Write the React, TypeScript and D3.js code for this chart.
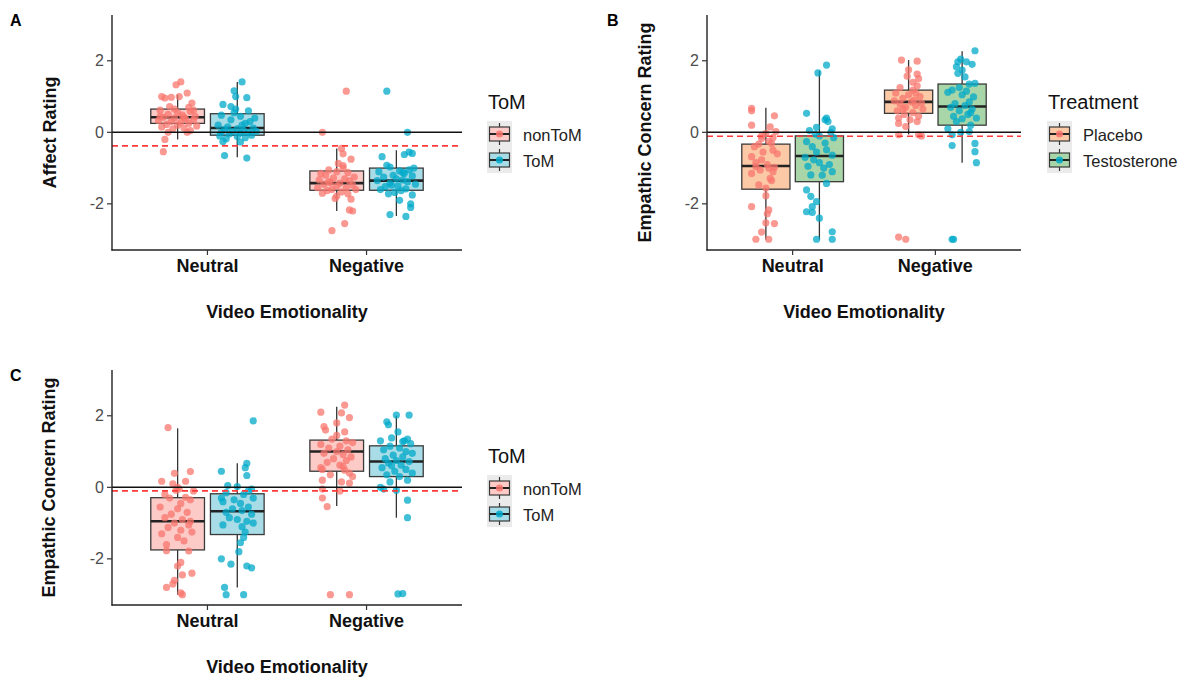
import React from "react";
import * as d3 from "d3";

// ---------- shared ----------
const categories = ["Neutral", "Negative"];
const yTicks = [-2, 0, 2];
const xAxisTitle = "Video Emotionality";

// ---------- Panel A : Affect rating by ToM ----------
const groupsA = ["nonToM", "ToM"];
// [lower whisker, q1, median, q3, upper whisker] for Neutral, Negative
const boxA_nonToM = [[-0.2, 0.25, 0.42, 0.65, 1.05], [-2.2, -1.62, -1.42, -1.08, -0.45]];
const boxA_ToM = [[-0.7, -0.08, 0.12, 0.52, 1.41], [-2.34, -1.62, -1.35, -1.0, -0.5]];
const refA = -0.38;
// points: [jitter (category units), rating]
const ptsA_nonToM_neu = [[0.02,1.41],[-0.01,1.33],[0.06,1.1],[-0.1,1.0],[-0.04,0.98],[-0.08,0.96],[0.01,1.0],[0.09,0.82],[-0.05,0.72],[0.07,0.7],[-0.11,0.62],[0.08,0.58],[0.0,0.55],[-0.06,0.5],[0.03,0.48],[0.11,0.45],[-0.09,0.42],[-0.02,0.4],[0.05,0.38],[0.1,0.35],[-0.12,0.33],[-0.04,0.3],[0.02,0.28],[0.07,0.25],[-0.07,0.22],[0.0,0.2],[0.12,0.18],[-0.1,0.15],[0.04,0.12],[-0.03,0.1],[0.08,0.05],[-0.06,0.0],[0.06,0.0],[-0.08,-0.2],[-0.09,-0.54],[0.1,0.62],[-0.02,0.65],[0.04,0.42],[-0.11,0.45]];
const ptsA_ToM_neu = [[0.03,1.41],[-0.02,1.16],[-0.01,1.0],[0.06,0.97],[-0.09,0.78],[-0.04,0.72],[-0.01,0.65],[0.07,0.6],[-0.1,0.48],[0.02,0.45],[-0.04,0.35],[0.08,0.3],[0.05,0.25],[-0.12,0.2],[-0.06,0.15],[0.1,0.12],[0.0,0.1],[-0.08,0.08],[0.04,0.05],[0.12,0.03],[-0.03,0.02],[-0.1,0.0],[0.07,0.0],[0.02,-0.02],[-0.05,-0.05],[0.09,-0.08],[-0.11,-0.1],[0.0,-0.12],[0.05,-0.15],[-0.07,-0.18],[-0.09,-0.26],[0.02,-0.27],[-0.08,-0.65],[0.06,-0.72],[0.11,0.4],[-0.02,0.55],[0.03,0.2]];
const ptsA_nonToM_neg = [[0.06,1.15],[-0.09,0.0],[0.03,-0.45],[0.04,-0.6],[0.09,-0.75],[0.01,-0.87],[0.04,-0.93],[-0.05,-1.05],[-0.1,-1.15],[0.0,-1.1],[0.07,-1.12],[-0.07,-1.2],[0.11,-1.25],[-0.02,-1.28],[0.05,-1.3],[-0.11,-1.33],[0.08,-1.36],[-0.04,-1.4],[0.02,-1.42],[-0.08,-1.45],[0.1,-1.47],[0.0,-1.5],[-0.12,-1.55],[0.06,-1.55],[-0.03,-1.6],[0.12,-1.6],[-0.06,-1.63],[0.03,-1.67],[-0.09,-1.7],[0.07,-1.72],[0.0,-1.78],[-0.01,-1.85],[0.09,-1.87],[0.08,-2.17],[0.1,-2.2],[0.05,-2.55],[-0.03,-2.75],[0.04,-1.0],[-0.05,-1.38]];
const ptsA_ToM_neg = [[-0.06,1.15],[0.07,0.0],[0.1,-0.59],[0.08,-0.55],[0.05,-0.62],[-0.09,-0.68],[-0.06,-0.92],[-0.04,-0.97],[0.08,-1.05],[0.11,-1.0],[0.02,-1.08],[-0.11,-1.1],[0.05,-1.15],[-0.02,-1.2],[0.1,-1.22],[-0.08,-1.25],[0.0,-1.3],[0.04,-1.33],[-0.12,-1.35],[0.07,-1.38],[-0.04,-1.42],[0.12,-1.45],[0.01,-1.5],[-0.07,-1.52],[0.06,-1.58],[-0.1,-1.6],[0.03,-1.63],[-0.01,-1.68],[0.1,-1.75],[-0.05,-1.72],[0.02,-1.9],[0.09,-2.0],[0.09,-2.1],[-0.04,-2.3],[0.06,-2.35],[0.04,-1.12],[-0.03,-1.48]];

// ---------- Panel B : Empathic concern by Treatment ----------
const groupsB = ["Placebo", "Testosterone"];
const boxB_Placebo = [[-3.0, -1.59, -0.94, -0.33, 0.69], [-0.06, 0.53, 0.85, 1.18, 2.02]];
const boxB_Testo = [[-3.0, -1.38, -0.66, -0.1, 1.72], [-0.85, 0.2, 0.72, 1.35, 2.27]];
const refB = -0.11;
const ptsB_Placebo_neu = [[-0.1,0.67],[-0.1,0.6],[0.06,0.46],[-0.1,0.2],[0.03,0.15],[0.07,0.02],[0.0,-0.03],[-0.03,-0.1],[0.05,-0.15],[-0.03,-0.17],[0.02,-0.25],[0.04,-0.31],[-0.05,-0.33],[-0.08,-0.4],[0.05,-0.5],[-0.02,-0.55],[0.08,-0.6],[-0.1,-0.68],[-0.03,-0.77],[-0.07,-0.85],[0.01,-0.9],[-0.07,-0.96],[0.02,-1.0],[0.06,-0.98],[-0.04,-1.05],[0.05,-1.1],[-0.1,-1.15],[0.03,-1.29],[-0.05,-1.47],[0.0,-1.56],[0.0,-1.77],[-0.1,-2.08],[0.02,-2.17],[0.01,-2.28],[0.0,-2.53],[0.06,-2.55],[-0.03,-2.79],[-0.07,-2.99],[0.02,-2.99],[0.04,-1.35]];
const ptsB_Testo_neu = [[0.05,1.88],[-0.01,1.66],[-0.09,0.53],[0.05,0.4],[0.04,0.35],[0.06,0.3],[-0.02,0.14],[0.09,0.1],[-0.07,0.05],[0.08,0.0],[-0.03,-0.05],[0.0,-0.1],[0.1,-0.15],[-0.09,-0.26],[-0.05,-0.4],[0.05,-0.49],[-0.02,-0.55],[0.09,-0.64],[-0.04,-0.77],[0.0,-0.85],[0.07,-0.9],[-0.08,-0.95],[0.03,-1.0],[0.09,-1.1],[-0.06,-1.19],[0.02,-1.2],[0.05,-1.43],[-0.09,-1.61],[-0.06,-1.79],[-0.02,-1.94],[-0.05,-2.08],[-0.09,-2.22],[-0.05,-2.24],[0.0,-2.4],[0.09,-2.78],[0.09,-2.99],[-0.02,-2.99],[-0.1,-0.7],[0.04,-0.3]];
const ptsB_Placebo_neg = [[-0.05,2.02],[0.06,1.99],[0.0,1.75],[-0.01,1.57],[0.06,1.63],[0.07,1.5],[0.03,1.4],[-0.06,1.25],[0.06,1.3],[0.03,1.18],[-0.09,1.1],[0.0,1.05],[0.08,1.0],[-0.04,0.95],[0.04,0.9],[-0.1,0.88],[0.02,0.85],[0.09,0.82],[-0.06,0.8],[0.05,0.75],[-0.02,0.7],[0.1,0.65],[-0.08,0.6],[0.03,0.55],[-0.03,0.5],[0.07,0.45],[-0.07,0.4],[0.01,0.35],[0.06,0.3],[-0.07,0.25],[-0.02,0.16],[-0.07,-0.07],[0.07,-0.07],[0.09,-0.1],[-0.07,-2.93],[-0.02,-2.99],[0.05,1.1],[-0.04,0.65]];
const ptsB_Testo_neg = [[0.09,2.28],[-0.03,1.97],[0.03,1.97],[-0.01,2.05],[-0.04,1.83],[0.0,1.74],[-0.03,1.65],[0.07,1.9],[0.05,1.35],[0.09,1.37],[-0.07,1.18],[-0.02,1.25],[0.03,1.15],[0.08,0.99],[-0.1,1.12],[0.0,1.05],[0.05,0.85],[-0.05,0.8],[0.02,0.75],[-0.08,0.7],[0.07,0.65],[-0.02,0.6],[0.04,0.5],[-0.06,0.45],[0.1,0.4],[0.0,0.38],[-0.04,0.3],[0.06,0.2],[-0.1,0.1],[-0.01,0.0],[0.05,0.02],[-0.07,-0.07],[-0.07,-0.37],[0.09,-0.31],[0.09,-0.54],[0.1,-0.85],[-0.07,-2.99],[-0.06,-2.99],[0.02,1.55],[0.06,0.55]];

// ---------- Panel C : Empathic concern by ToM ----------
const boxC_nonToM = [[-3.0, -1.75, -0.95, -0.29, 1.65], [-0.52, 0.45, 1.0, 1.32, 2.25]];
const boxC_ToM = [[-2.8, -1.32, -0.67, -0.18, 0.67], [-0.85, 0.3, 0.72, 1.16, 2.0]];
const refC = -0.1;
const ptsC_nonToM_neu = [[-0.06,1.67],[-0.02,0.39],[0.08,0.44],[-0.1,0.17],[0.05,0.17],[-0.03,0.1],[0.0,0.0],[0.01,-0.05],[-0.01,-0.08],[-0.08,-0.2],[0.05,-0.28],[-0.05,-0.3],[0.08,-0.35],[0.02,-0.45],[-0.11,-0.55],[0.0,-0.6],[0.06,-0.7],[-0.04,-0.75],[-0.08,-0.85],[0.03,-0.9],[0.08,-0.95],[-0.02,-1.0],[0.07,-1.05],[-0.06,-1.12],[0.02,-1.2],[0.09,-1.25],[-0.1,-1.3],[0.0,-1.4],[0.04,-1.5],[-0.07,-1.6],[-0.07,-1.77],[0.07,-1.78],[0.02,-2.1],[0.0,-2.2],[0.09,-2.4],[0.03,-2.45],[-0.02,-2.6],[-0.03,-2.7],[-0.07,-2.8],[0.03,-3.0],[0.02,-2.95],[0.1,-0.1]];
const ptsC_ToM_neu = [[0.1,1.86],[0.06,0.67],[0.05,0.55],[0.06,0.33],[-0.1,0.45],[-0.06,0.05],[0.0,0.02],[0.09,-0.05],[-0.07,-0.15],[0.04,-0.2],[-0.1,-0.3],[0.1,-0.3],[-0.09,-0.4],[0.02,-0.45],[0.07,-0.55],[-0.03,-0.6],[0.03,-0.65],[-0.07,-0.7],[0.09,-0.75],[-0.05,-0.85],[0.0,-0.9],[0.06,-0.95],[0.1,-1.0],[-0.09,-1.05],[0.03,-1.1],[0.05,-1.25],[0.04,-1.4],[0.02,-1.55],[0.01,-1.8],[-0.1,-2.0],[-0.04,-2.15],[0.06,-2.2],[0.09,-2.25],[-0.08,-2.8],[-0.07,-3.0],[0.04,-3.0],[-0.02,-0.35],[0.07,-0.1]];
const ptsC_nonToM_neg = [[0.05,2.3],[-0.1,2.1],[0.03,2.08],[0.08,1.95],[-0.08,1.7],[-0.07,1.6],[0.05,1.55],[0.0,1.45],[-0.03,1.35],[0.06,1.3],[0.1,1.25],[-0.1,1.2],[0.02,1.15],[-0.05,1.1],[0.07,1.05],[0.0,1.0],[-0.08,0.95],[0.04,0.92],[0.09,0.85],[-0.02,0.8],[0.06,0.75],[-0.06,0.7],[0.02,0.62],[-0.1,0.55],[-0.09,0.5],[0.05,0.48],[0.08,0.4],[-0.04,0.35],[0.1,0.3],[-0.09,0.2],[0.03,0.15],[0.08,0.12],[-0.09,-0.05],[0.02,-0.1],[-0.09,-0.3],[-0.06,-0.54],[-0.04,-3.0],[0.08,-3.0],[0.0,1.8],[0.04,0.58]];
const ptsC_ToM_neg = [[0.0,2.02],[0.08,2.02],[-0.06,1.83],[-0.05,1.75],[0.01,1.55],[-0.03,1.38],[0.07,1.35],[-0.1,1.3],[0.04,1.28],[0.09,1.22],[-0.04,1.15],[0.02,1.1],[-0.08,1.05],[0.06,1.0],[0.1,0.95],[-0.02,0.9],[0.04,0.85],[-0.07,0.8],[0.0,0.75],[0.08,0.72],[-0.05,0.68],[0.03,0.62],[-0.09,0.55],[0.06,0.5],[-0.01,0.45],[0.1,0.4],[-0.06,0.35],[0.02,0.3],[0.07,0.2],[-0.04,0.15],[-0.1,0.0],[-0.08,-0.05],[0.0,-0.08],[0.07,-0.36],[0.07,-0.85],[0.01,-2.98],[0.04,-2.97],[0.05,1.3],[-0.03,0.6]];

// ---------- styling ----------
const FONT = "'Liberation Sans', Arial, Helvetica, sans-serif";
const SALMON = "#F8766D";
const BLUE = "#00A9C9";
const FILL_NONTOM = "#FCCBC7";
const FILL_TOM = "#A8DCE6";
const FILL_PLACEBO = "#FCC9A6";
const FILL_TESTO = "#A9D6A9";

type Group = { box: number[][]; pts: number[][][]; fill: string; color: string; name: string };

function Panel(props: {
  x0: number; x1: number; y0: number; y1: number;
  tag: string; tagX: number; tagY: number;
  yLabel: string; yLabelX: number;
  groups: Group[]; refLine: number;
  legendTitle: string; legendX: number; legendY: number;
}) {
  const { x0, x1, y0, y1, groups, refLine } = props;
  const x = d3.scaleLinear().domain([0.4, 2.6]).range([x0, x1]);
  const y = d3.scaleLinear().domain([-3.29, 3.28]).range([y1, y0]);
  const dodge = 0.1875;
  const halfW = 0.16875;
  const ymid = (y0 + y1) / 2;
  const xmid = (x0 + x1) / 2;
  const cellH = 26;
  const cellW = 25;

  return (
    <g fontFamily={FONT}>
      <text x={props.tagX} y={props.tagY} fontSize={16} fontWeight="bold" fill="#000">{props.tag}</text>
      {/* boxes */}
      {groups.map((g, gi) =>
        categories.map((c, ci) => {
          const cx = ci + 1 + (gi === 0 ? -dodge : dodge);
          const [lo, q1, med, q3, hi] = g.box[ci];
          return (
            <g key={`b${gi}${ci}`}>
              <line x1={x(cx)} x2={x(cx)} y1={y(hi)} y2={y(q3)} stroke="#333" strokeWidth={1.3} />
              <line x1={x(cx)} x2={x(cx)} y1={y(q1)} y2={y(lo)} stroke="#333" strokeWidth={1.3} />
              <rect x={x(cx - halfW)} width={x(cx + halfW) - x(cx - halfW)} y={y(q3)} height={y(q1) - y(q3)}
                fill={g.fill} stroke="#3a3a3a" strokeWidth={1.3} />
              <line x1={x(cx - halfW)} x2={x(cx + halfW)} y1={y(med)} y2={y(med)} stroke="#222" strokeWidth={2.6} />
            </g>
          );
        })
      )}
      {/* points */}
      {groups.map((g, gi) =>
        categories.map((c, ci) => {
          const cx = ci + 1 + (gi === 0 ? -dodge : dodge);
          return g.pts[ci].map((p, pi) => (
            <circle key={`p${gi}${ci}${pi}`} cx={x(cx + p[0])} cy={y(p[1])} r={3.6} fill={g.color} fillOpacity={0.75} />
          ));
        })
      )}
      {/* reference lines */}
      <line x1={x0} x2={x1} y1={y(0)} y2={y(0)} stroke="#111" strokeWidth={1.4} />
      <line x1={x0} x2={x1} y1={y(refLine)} y2={y(refLine)} stroke="#FF3B3B" strokeWidth={1.6} strokeDasharray="6,4" />
      {/* axes */}
      <line x1={x0} x2={x0} y1={y0} y2={y1 + 0.6} stroke="#222" strokeWidth={1.4} />
      <line x1={x0 - 0.6} x2={x1} y1={y1} y2={y1} stroke="#222" strokeWidth={1.4} />
      {yTicks.map((t) => (
        <g key={`yt${t}`}>
          <line x1={x0 - 5} x2={x0} y1={y(t)} y2={y(t)} stroke="#333" strokeWidth={1.2} />
          <text x={x0 - 8} y={y(t)} textAnchor="end" dominantBaseline="central" fontSize={16} fill="#4D4D4D">{t}</text>
        </g>
      ))}
      {categories.map((c, ci) => (
        <g key={`xt${c}`}>
          <line x1={x(ci + 1)} x2={x(ci + 1)} y1={y1} y2={y1 + 5} stroke="#333" strokeWidth={1.2} />
          <text x={x(ci + 1)} y={y1 + 16} textAnchor="middle" dominantBaseline="central" fontSize={18} fontWeight="bold" fill="#111">{c}</text>
        </g>
      ))}
      <text x={xmid} y={y1 + 62} textAnchor="middle" dominantBaseline="central" fontSize={18} fontWeight="bold" fill="#111">{xAxisTitle}</text>
      <text transform={`translate(${props.yLabelX},${ymid}) rotate(-90)`} textAnchor="middle" dominantBaseline="central"
        fontSize={18} fontWeight="bold" fill="#111">{props.yLabel}</text>
      {/* legend */}
      <text x={props.legendX + 1} y={props.legendY} fontSize={20} fill="#111">{props.legendTitle}</text>
      {groups.map((g, gi) => {
        const top = props.legendY + 12 + gi * cellH;
        const lx = props.legendX;
        const cxk = lx + cellW / 2;
        const cyk = top + cellH / 2;
        return (
          <g key={`lg${gi}`}>
            <rect x={lx} y={top} width={cellW} height={cellH} fill="#EBEBEB" />
            <line x1={cxk} x2={cxk} y1={top + 2} y2={top + cellH - 2} stroke="#333" strokeWidth={1.2} />
            <rect x={lx + 2.5} y={cyk - 7} width={cellW - 5} height={14} fill={g.fill} stroke="#3a3a3a" strokeWidth={1.2} />
            <line x1={lx + 2.5} x2={lx + cellW - 2.5} y1={cyk} y2={cyk} stroke="#222" strokeWidth={2} />
            <circle cx={cxk} cy={cyk} r={3.6} fill={g.color} fillOpacity={0.85} />
            <text x={lx + 36} y={cyk + 1} dominantBaseline="central" fontSize={16.5} fill="#222">{g.name}</text>
          </g>
        );
      })}
    </g>
  );
}

export default function App() {
  const groupsPanelA: Group[] = [
    { name: groupsA[0], box: boxA_nonToM, pts: [ptsA_nonToM_neu, ptsA_nonToM_neg], fill: FILL_NONTOM, color: SALMON },
    { name: groupsA[1], box: boxA_ToM, pts: [ptsA_ToM_neu, ptsA_ToM_neg], fill: FILL_TOM, color: BLUE },
  ];
  const groupsPanelB: Group[] = [
    { name: groupsB[0], box: boxB_Placebo, pts: [ptsB_Placebo_neu, ptsB_Placebo_neg], fill: FILL_PLACEBO, color: SALMON },
    { name: groupsB[1], box: boxB_Testo, pts: [ptsB_Testo_neu, ptsB_Testo_neg], fill: FILL_TESTO, color: BLUE },
  ];
  const groupsPanelC: Group[] = [
    { name: groupsA[0], box: boxC_nonToM, pts: [ptsC_nonToM_neu, ptsC_nonToM_neg], fill: FILL_NONTOM, color: SALMON },
    { name: groupsA[1], box: boxC_ToM, pts: [ptsC_ToM_neu, ptsC_ToM_neg], fill: FILL_TOM, color: BLUE },
  ];
  return (
    <div style={{ position: "absolute", left: 0, top: 0 }}>
      <svg width={1187} height={678} style={{ display: "block", background: "#fff" }}>
        <Panel x0={112} x1={462} y0={15} y1={250} tag="A" tagX={10} tagY={26}
          yLabel="Affect Rating" yLabelX={50} groups={groupsPanelA} refLine={refA}
          legendTitle="ToM" legendX={487} legendY={109} />
        <Panel x0={707} x1={1021} y0={15} y1={250} tag="B" tagX={607} tagY={26}
          yLabel="Empathic Concern Rating" yLabelX={645} groups={groupsPanelB} refLine={refB}
          legendTitle="Treatment" legendX={1047} legendY={109} />
        <Panel x0={112} x1={462} y0={370} y1={605} tag="C" tagX={10} tagY={381}
          yLabel="Empathic Concern Rating" yLabelX={49} groups={groupsPanelC} refLine={refC}
          legendTitle="ToM" legendX={487} legendY={463} />
      </svg>
    </div>
  );
}
